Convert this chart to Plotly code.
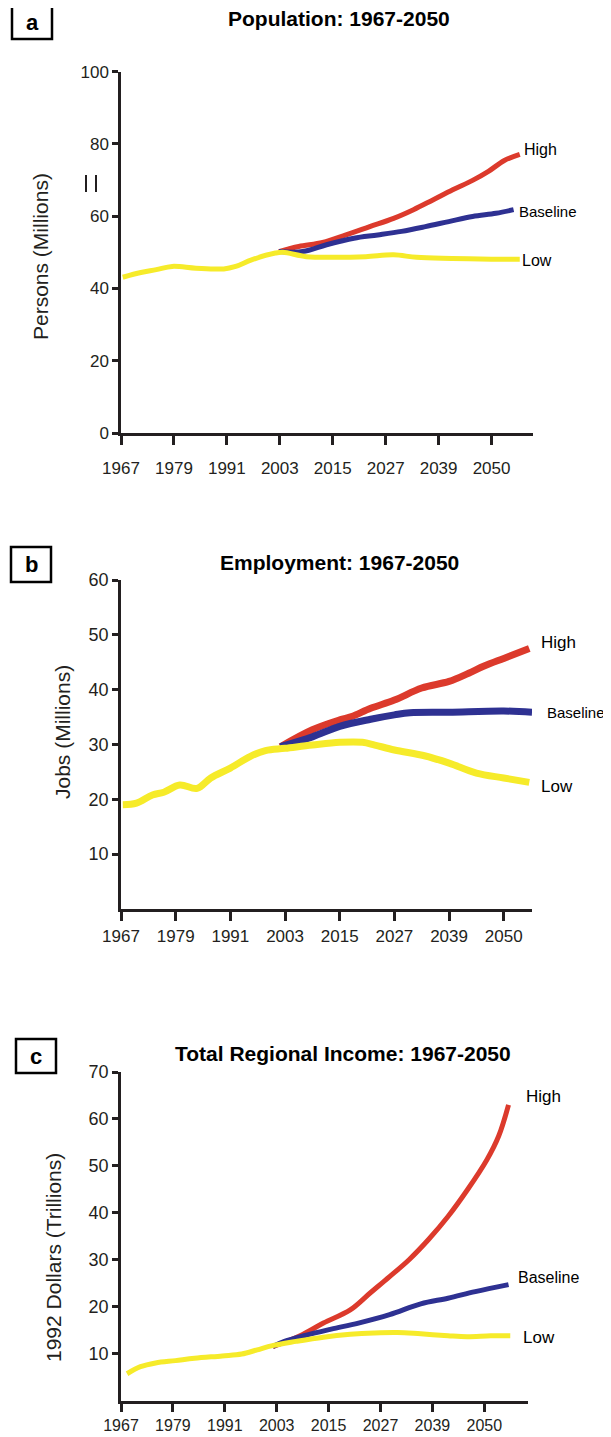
import plotly.graph_objects as go
from plotly.subplots import make_subplots

# Viewport size of the reference; the page body keeps its default 8px margin,
# so the figure is made 8px smaller and every measured pixel is shifted by 8.
W, H = 611, 1437
OFF = 8
FW, FH = W - OFF, H - OFF

# Shared x tick layout: evenly spaced 12-year ticks, last one labelled 2050
tick_years = [1967, 1979, 1991, 2003, 2015, 2027, 2039, 2051]
tick_labels = ['1967', '1979', '1991', '2003', '2015', '2027', '2039', '2050']

# ---- Panel a: Population (millions) ----
pop_low_x = [1967.4, 1971.5, 1975, 1978.6, 1984, 1990.3, 1993, 1996.6, 2002, 2003.7, 2009, 2015.4,
             2022.5, 2028.8, 2034, 2042, 2051, 2057.4]
pop_low_y = [43.1, 44.4, 45.2, 46.1, 45.6, 45.4, 46.1, 47.9, 49.8, 50.0, 48.8, 48.6,
             48.8, 49.3, 48.6, 48.3, 48.1, 48.1]
pop_high_x = [2002.8, 2007.3, 2012.7, 2018, 2023.4, 2028.8, 2033.3, 2037.7, 2042.2, 2046.7, 2050.3, 2053.9, 2057.4]
pop_high_y = [50.2, 51.6, 52.7, 54.8, 57.1, 59.4, 61.8, 64.5, 67.3, 69.9, 72.4, 75.4, 77.1]
pop_base_x = [2002.8, 2008.2, 2013.6, 2019.8, 2025.2, 2030.6, 2036, 2041.3, 2046.7, 2052, 2056]
pop_base_y = [50.2, 50.2, 52.1, 53.9, 54.8, 55.8, 57.1, 58.5, 59.9, 60.8, 61.8]

# ---- Panel b: Employment (millions of jobs) ----
emp_low_x = [1967.4, 1970.4, 1973.9, 1976.4, 1979.9, 1983.7, 1986.7, 1991, 1995.3, 1998.7, 2003, 2009,
             2015, 2020, 2022.7, 2027, 2033.8, 2039, 2045, 2051, 2056.6]
emp_low_y = [19.0, 19.3, 20.8, 21.3, 22.6, 22.0, 23.9, 25.7, 27.8, 28.9, 29.3, 29.9,
             30.4, 30.4, 29.9, 29.0, 27.9, 26.6, 24.8, 23.9, 23.1]
emp_high_x = [2002, 2009, 2015, 2017.6, 2021.8, 2027, 2033, 2039, 2043.3, 2046.7, 2051, 2056.6]
emp_high_y = [29.6, 32.7, 34.5, 35.1, 36.6, 38.1, 40.3, 41.5, 43.0, 44.3, 45.7, 47.5]
emp_base_x = [2002, 2009, 2015, 2021.8, 2027, 2030.4, 2039, 2051, 2057.2]
emp_base_y = [29.6, 31.4, 33.3, 34.6, 35.4, 35.8, 35.9, 36.1, 35.9]

# ---- Panel c: Total regional income (trillions of 1992 dollars) ----
inc_low_x = [1968.4, 1971.5, 1975, 1979.6, 1984, 1990.4, 1994.9, 1998.5, 2002, 2007.5, 2013.8, 2020,
             2025.5, 2030.9, 2036.3, 2042.6, 2047, 2052.5, 2057]
inc_low_y = [5.7, 7.2, 8.0, 8.5, 9.0, 9.5, 9.9, 10.8, 11.7, 12.6, 13.5, 14.1,
             14.4, 14.5, 14.2, 13.8, 13.6, 13.8, 13.8]
inc_high_x = [2002.1, 2008.4, 2013.8, 2020, 2024.6, 2029.1, 2033.6, 2038.1, 2042.6, 2047.1, 2051.6, 2054.3, 2056.6]
inc_high_y = [11.5, 13.8, 16.5, 19.3, 22.9, 26.4, 30.0, 34.3, 39.2, 44.9, 51.3, 56.3, 63.0]
inc_base_x = [2002.1, 2004.8, 2009.3, 2015.6, 2021.9, 2029.1, 2036.3, 2042.6, 2048.9, 2056.6]
inc_base_y = [11.5, 12.6, 13.8, 15.2, 16.5, 18.3, 20.6, 21.8, 23.2, 24.7]

RED = '#dc3a2c'
BLUE = '#2e3192'
YELLOW = '#f6eb2a'
INK = '#231f20'


def px(x):
    return (x - OFF) / FW


def py(y):
    return 1 - (y - OFF) / FH


fig = make_subplots(rows=3, cols=1)

panels = [
    (1, pop_low_x, pop_low_y, pop_high_x, pop_high_y, pop_base_x, pop_base_y, 5),
    (2, emp_low_x, emp_low_y, emp_high_x, emp_high_y, emp_base_x, emp_base_y, 7),
    (3, inc_low_x, inc_low_y, inc_high_x, inc_high_y, inc_base_x, inc_base_y, 5),
]
for row, lx, ly, hx, hy, bx, by, lw in panels:
    # order: high (red) first, baseline over it, low (yellow) on top
    fig.add_trace(go.Scatter(x=hx, y=hy, mode='lines', line=dict(color=RED, width=lw, shape='spline'),
                             showlegend=False), row=row, col=1)
    fig.add_trace(go.Scatter(x=bx, y=by, mode='lines', line=dict(color=BLUE, width=lw, shape='spline'),
                             showlegend=False), row=row, col=1)
    fig.add_trace(go.Scatter(x=lx, y=ly, mode='lines', line=dict(color=YELLOW, width=lw, shape='spline'),
                             showlegend=False), row=row, col=1)

# axis geometry
axis_specs = [
    # row, x-domain px, x-range end, y-domain px (bottom, top), y range, y ticks, y font, x font, x label standoff
    (1, (121, 533), 2060.4, (433, 71.6), 100, [0, 20, 40, 60, 80, 100], 17, 17, 9),
    (2, (121, 532), 2057.2, (909, 580), 60, [10, 20, 30, 40, 50, 60], 18, 17, 1),
    (3, (121, 528), 2061.1, (1400.5, 1072), 70, [10, 20, 30, 40, 50, 60, 70], 18, 16, 0),
]
for row, (x0, x1), xend, (yb, yt), ymax, yticks, yfs, xfs, xstand in axis_specs:
    fig.update_xaxes(domain=[px(x0), px(x1)], range=[1967, xend], tickvals=tick_years, ticktext=tick_labels,
                     showgrid=False, zeroline=False, showline=True, linecolor=INK, linewidth=2.5,
                     ticks='outside', ticklen=9, tickwidth=2.5, tickcolor=INK, ticklabelstandoff=xstand,
                     tickfont=dict(family='Liberation Sans Narrow, Arial Narrow, sans-serif', size=xfs, color=INK),
                     row=row, col=1)
    fig.update_yaxes(domain=[py(yb), py(yt)], range=[0, ymax], tickvals=yticks,
                     showgrid=False, zeroline=False, showline=True, linecolor=INK, linewidth=2.5,
                     ticks='outside', ticklen=6, tickwidth=2.5, tickcolor=INK,
                     tickfont=dict(family='Liberation Sans, Arial, sans-serif', size=yfs, color=INK),
                     row=row, col=1)

annotations = []
shapes = []

# panel titles
titles = [('Population: 1967-2050', 339, 18), ('Employment: 1967-2050', 339, 562),
          ('Total Regional Income: 1967-2050', 343, 1053)]
for text, x, y in titles:
    annotations.append(dict(text='<b>' + text + '</b>', x=px(x), y=py(y), xref='paper', yref='paper',
                            showarrow=False, xanchor='center', yanchor='middle',
                            font=dict(family='Liberation Sans Narrow, Arial Narrow, sans-serif', size=21, color='black')))

# panel letters in boxes
letters = [('a', (12, 5, 52, 39)), ('b', (11, 547, 51, 582)), ('c', (16, 1039, 56, 1073))]
for letter, (x0, y0, x1, y1) in letters:
    shapes.append(dict(type='rect', xref='paper', yref='paper', x0=px(x0), x1=px(x1), y0=py(y0), y1=py(y1),
                       line=dict(color='black', width=2.5), fillcolor='white'))
    annotations.append(dict(text='<b>' + letter + '</b>', x=px((x0 + x1) / 2), y=py((y0 + y1) / 2),
                            xref='paper', yref='paper', showarrow=False, xanchor='center', yanchor='middle',
                            font=dict(family='Liberation Sans, Arial, sans-serif', size=22, color='black')))

# y axis titles (rotated)
ytitles = [('Persons (Millions)', 41, 257), ('Jobs (Millions)', 63, 732), ('1992 Dollars (Trillions)', 53, 1257)]
for text, x, y in ytitles:
    annotations.append(dict(text=text, x=px(x), y=py(y), xref='paper', yref='paper', textangle=-90,
                            showarrow=False, xanchor='center', yanchor='middle',
                            font=dict(family='Liberation Sans, Arial, sans-serif', size=21, color=INK)))

# series labels at the line ends
series_labels = [
    ('High', 522, 149, 16), ('Baseline', 517, 211, 15), ('Low', 520, 260, 16),
    ('High', 539, 642, 17), ('Baseline', 545, 712, 15), ('Low', 539, 786, 17),
    ('High', 524, 1096, 17), ('Baseline', 516, 1277, 16), ('Low', 521, 1337, 17),
]
for text, x, y, fs in series_labels:
    annotations.append(dict(text=text, x=px(x), y=py(y), xref='paper', yref='paper', showarrow=False,
                            xanchor='left', yanchor='middle',
                            font=dict(family='Liberation Sans, Arial, sans-serif', size=fs, color='black')))

# small break marks next to the population axis
for bx in (86, 96):
    shapes.append(dict(type='line', xref='paper', yref='paper', x0=px(bx), x1=px(bx), y0=py(175), y1=py(192),
                       line=dict(color=INK, width=2)))

fig.update_layout(width=FW, height=FH, margin=dict(l=0, r=0, t=0, b=0, autoexpand=False), plot_bgcolor='white',
                  paper_bgcolor='white', annotations=annotations, shapes=shapes, showlegend=False)

fig.write_html("out.html")
